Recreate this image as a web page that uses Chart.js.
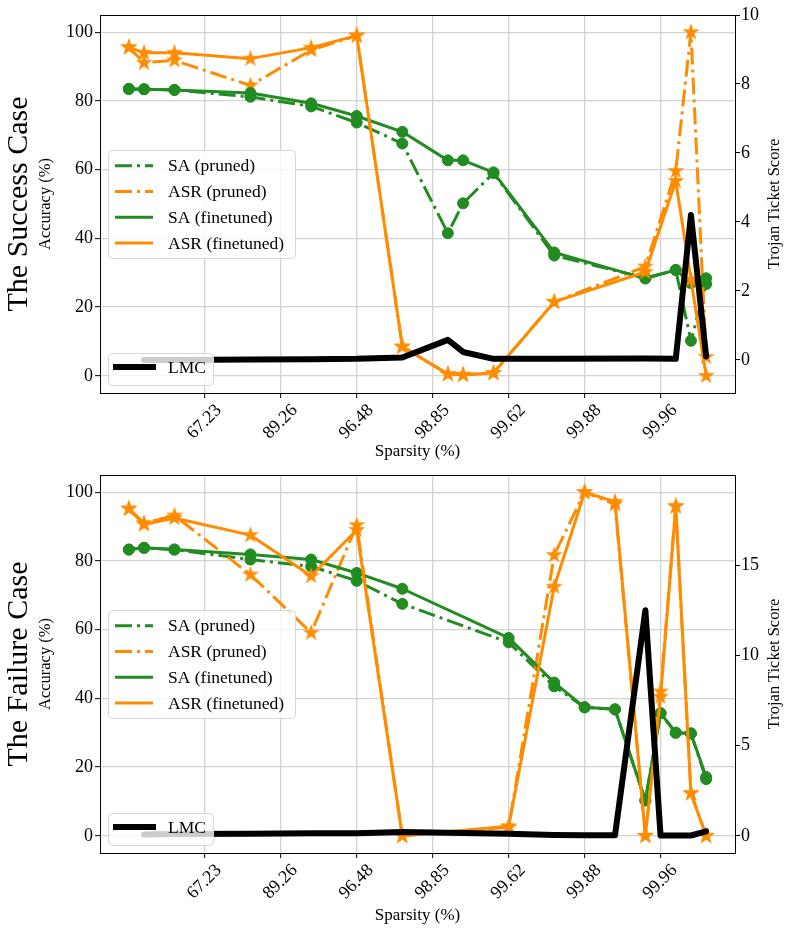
<!DOCTYPE html>
<html>
<head>
<meta charset="utf-8">
<script src="https://cdn.jsdelivr.net/npm/chart.js@4.4.1/dist/chart.umd.min.js"></script>
<style>
  html, body { margin: 0; padding: 0; background: #fff; }
  #wrap { position: relative; width: 788px; height: 928px; overflow: hidden; }
  #wrap canvas { position: absolute; left: 0; }
  .side-title, .score-title {
    position: absolute; width: 400px; height: 40px; line-height: 40px;
    text-align: center; font-family: "Liberation Serif", "Times New Roman", serif;
    color: #000; transform: rotate(-90deg); white-space: nowrap;
  }
  .side-title { font-size: 30px; }
  .score-title { font-size: 16.5px; }
</style>
</head>
<body>
<div id="wrap">
  <canvas id="success" width="788" height="464" style="top:0"></canvas>
  <canvas id="failure" width="788" height="464" style="top:464px"></canvas>
  <div class="side-title" style="left:-183px; top:184px">The Success Case</div>
  <div class="side-title" style="left:-183px; top:644px">The Failure Case</div>
  <div class="score-title" style="left:574px; top:184px">Trojan Ticket Score</div>
  <div class="score-title" style="left:574px; top:644px">Trojan Ticket Score</div>
</div>
<script>
// x positions are pruning iterations, tick labels show the sparsity reached
const sparsityTicks = [5, 10, 15, 20, 25, 30, 35]
const sparsityLabels = ['67.23', '89.26', '96.48', '98.85', '99.62', '99.88', '99.96']
const accuracyTicks = [0, 20, 40, 60, 80, 100]

// the success case
const successIter = [0, 1, 3, 8, 12, 15, 18, 21, 22, 24, 28, 34, 36, 37, 38]
const successSaPruned = [83.5, 83.4, 83.2, 81.2, 78.4, 73.7, 67.6, 41.5, 50.2, 59.0, 35.0, 28.5, 30.8, 10.2, 26.7]
const successAsrPruned = [95.6, 91.1, 91.8, 84.5, 94.8, 99.0, 8.5, 0.5, 0.3, 0.8, 21.5, 31.8, 59.6, 100.0, 5.5]
const successSaFinetuned = [83.5, 83.4, 83.2, 82.3, 79.3, 75.6, 71.0, 62.7, 62.7, 59.2, 35.9, 28.3, 30.8, 27.0, 28.4]
const successAsrFinetuned = [95.6, 94.0, 94.0, 92.3, 95.5, 99.0, 8.5, 0.5, 0.3, 0.8, 21.5, 30.2, 56.7, 28.0, 0.0]
const successLmc = [null, 0.0, 0.0, 0.01, 0.02, 0.03, 0.07, 0.58, 0.23, 0.03, 0.03, 0.04, 0.03, 4.2, 0.1]
const successScoreTicks = [0, 2, 4, 6, 8, 10]

// the failure case
const failureIter = [0, 1, 3, 8, 12, 15, 18, 25, 28, 30, 32, 34, 35, 36, 37, 38]
const failureSaPruned = [83.3, 83.8, 83.3, 80.4, 78.4, 74.2, 67.5, 56.3, 43.5, 37.4, 36.8, 10.3, 35.7, 30.0, 29.8, 16.5]
const failureAsrPruned = [95.2, 91.0, 93.2, 76.0, 59.1, 90.4, 0.0, 2.5, 81.7, 100.0, 96.5, 0.0, 42.0, 96.0, 12.4, 0.0]
const failureSaFinetuned = [83.3, 83.8, 83.3, 81.9, 80.4, 76.5, 71.9, 57.6, 44.6, 37.4, 36.8, 10.3, 35.7, 30.0, 29.8, 17.1]
const failureAsrFinetuned = [95.2, 90.6, 92.5, 87.5, 75.6, 89.0, 0.0, 2.8, 72.5, 100.0, 97.2, 0.0, 40.5, 95.8, 12.4, 0.0]
const failureLmc = [null, 0.08, 0.1, 0.12, 0.15, 0.15, 0.22, 0.12, 0.05, 0.03, 0.03, 12.5, 0.02, 0.02, 0.02, 0.25]
const failureScoreTicks = [0, 5, 10, 15]

const GREEN = '#228b22'
const ORANGE = '#ff8c00'
const DASHDOT = [17, 5, 3, 5]
const SERIF = '"Liberation Serif", "Times New Roman", serif'

Chart.defaults.font.family = SERIF
Chart.defaults.color = '#000'

// filled five point star like matplotlib's '*' marker
function makeStar (color, r) {
  const c = document.createElement('canvas')
  const s = Math.ceil(r * 2 + 2)
  c.width = s
  c.height = s
  const g = c.getContext('2d')
  g.beginPath()
  for (let i = 0; i < 10; i++) {
    const rad = i % 2 === 0 ? r : r * 0.382
    const a = -Math.PI / 2 + i * Math.PI / 5
    g.lineTo(s / 2 + rad * Math.cos(a), s / 2 + rad * Math.sin(a))
  }
  g.closePath()
  g.fillStyle = color
  g.fill()
  return c
}
const starImg = makeStar(ORANGE, 9)

const zip = (xs, ys) => xs.map((x, i) => ({ x: x, y: ys[i] }))

// draw the 4 spines on top of the plot
const frame = {
  id: 'frame',
  afterDatasetsDraw (chart) {
    const { ctx, chartArea: a } = chart
    ctx.save()
    ctx.strokeStyle = '#000'
    ctx.lineWidth = 1
    ctx.strokeRect(Math.round(a.left) + 0.5, Math.round(a.top) + 0.5, Math.round(a.right - a.left), Math.round(a.bottom - a.top))
    ctx.restore()
  }
}

// legends inside the axes, drawn like matplotlib frames
const mplLegend = {
  id: 'mplLegend',
  afterDraw (chart, args, opts) {
    const { ctx, chartArea: a } = chart
    ctx.save()
    opts.boxes.forEach(b => {
      const x = a.left + 8
      const y = b.fromBottom ? a.bottom - 8 - b.h : a.top + b.top
      ctx.beginPath()
      ctx.roundRect(x + 0.5, y + 0.5, b.w, b.h, 4)
      ctx.fillStyle = 'rgba(255,255,255,0.8)'
      ctx.fill()
      ctx.strokeStyle = '#d6d6d6'
      ctx.lineWidth = 1
      ctx.stroke()
      b.items.forEach((it, i) => {
        const cy = y + b.first + i * 25.8
        ctx.beginPath()
        ctx.setLineDash(it.dash || [])
        ctx.lineWidth = it.width
        ctx.strokeStyle = it.color
        ctx.moveTo(x + b.x0, cy)
        ctx.lineTo(x + b.x1, cy)
        ctx.stroke()
        ctx.setLineDash([])
        ctx.fillStyle = '#000'
        ctx.font = '17.5px ' + SERIF
        ctx.textBaseline = 'middle'
        ctx.fillText(it.label, x + 60, cy + 1)
      })
    })
    ctx.restore()
  }
}

function buildChart (id, iter, saP, asrP, saF, asrF, lmc, scoreMin, scoreMax, scoreTicks, padTop, xHeight) {
  const lineDs = (label, ys, color, dash, marker) => ({
    label: label,
    data: zip(iter, ys),
    yAxisID: 'y',
    borderColor: color,
    backgroundColor: color,
    borderWidth: 3,
    borderDash: dash,
    borderJoinStyle: 'round',
    pointStyle: marker === 'star' ? starImg : 'circle',
    pointRadius: marker === 'star' ? 8 : 5.5,
    pointBorderWidth: 1,
    pointBorderColor: color,
    pointBackgroundColor: color,
    tension: 0
  })

  return new Chart(document.getElementById(id), {
    type: 'line',
    data: {
      datasets: [
        {
          label: 'LMC',
          data: zip(iter, lmc),
          yAxisID: 'y2',
          borderColor: '#000',
          borderWidth: 6,
          pointRadius: 0,
          borderJoinStyle: 'round',
          borderCapStyle: 'round',
          tension: 0
        },
        lineDs('ASR (finetuned)', asrF, ORANGE, [], 'star'),
        lineDs('SA (finetuned)', saF, GREEN, [], 'circle'),
        lineDs('ASR (pruned)', asrP, ORANGE, DASHDOT, 'star'),
        lineDs('SA (pruned)', saP, GREEN, DASHDOT, 'circle')
      ]
    },
    options: {
      responsive: false,
      animation: false,
      layout: { padding: { top: padTop, left: 0, right: 0, bottom: 0 } },
      plugins: {
        legend: { display: false },
        tooltip: { enabled: false },
        mplLegend: {
          boxes: [
            {
              top: 135, w: 187, h: 108, first: 15.7, x0: 7, x1: 45,
              items: [
                { label: 'SA (pruned)', color: GREEN, dash: DASHDOT, width: 3 },
                { label: 'ASR (pruned)', color: ORANGE, dash: DASHDOT, width: 3 },
                { label: 'SA (finetuned)', color: GREEN, width: 3 },
                { label: 'ASR (finetuned)', color: ORANGE, width: 3 }
              ]
            },
            {
              fromBottom: true, w: 105, h: 32, first: 14, x0: 5, x1: 48,
              items: [{ label: 'LMC', color: '#000', width: 6 }]
            }
          ]
        }
      },
      scales: {
        x: {
          type: 'linear',
          min: -1.9,
          max: 39.9,
          afterBuildTicks: axis => { axis.ticks = sparsityTicks.map(v => ({ value: v })) },
          afterFit: s => { s.height = xHeight; s.paddingLeft = 0; s.paddingRight = 0 },
          grid: { color: '#d3d3d3', lineWidth: 1.3, tickColor: '#000', tickLength: 5, tickWidth: 1 },
          border: { display: false },
          ticks: {
            autoSkip: false,
            minRotation: 45,
            maxRotation: 45,
            labelOffset: 14,
            padding: 2,
            font: { size: 18 },
            callback: (v, i) => sparsityLabels[i]
          },
          title: { display: true, text: 'Sparsity (%)', font: { size: 17 }, padding: { top: 0, bottom: 2 } }
        },
        y: {
          position: 'left',
          min: -5,
          max: 105,
          afterBuildTicks: axis => { axis.ticks = accuracyTicks.map(v => ({ value: v })) },
          afterFit: s => { s.width = 100; s.paddingTop = 0; s.paddingBottom = 0 },
          grid: { color: '#d3d3d3', lineWidth: 1.3, tickColor: '#000', tickLength: 5, tickWidth: 1 },
          border: { display: false },
          ticks: { padding: 2, font: { size: 18 } },
          title: { display: true, text: 'Accuracy (%)', font: { size: 16.5 }, padding: { top: 36, bottom: 0 } }
        },
        y2: {
          position: 'right',
          min: scoreMin,
          max: scoreMax,
          afterBuildTicks: axis => { axis.ticks = scoreTicks.map(v => ({ value: v })) },
          afterFit: s => { s.width = 53; s.paddingTop = 0; s.paddingBottom = 0 },
          grid: { drawOnChartArea: false, tickColor: '#000', tickLength: 5, tickWidth: 1 },
          border: { display: false },
          ticks: { padding: 1, font: { size: 18 } }
        }
      }
    },
    plugins: [frame, mplLegend]
  })
}

buildChart('success', successIter, successSaPruned, successAsrPruned, successSaFinetuned, successAsrFinetuned, successLmc, -0.96, 10, successScoreTicks, 15, 71)
buildChart('failure', failureIter, failureSaPruned, failureAsrPruned, failureSaFinetuned, failureAsrFinetuned, failureLmc, -0.95, 20, failureScoreTicks, 11, 75)
</script>
</body>
</html>
